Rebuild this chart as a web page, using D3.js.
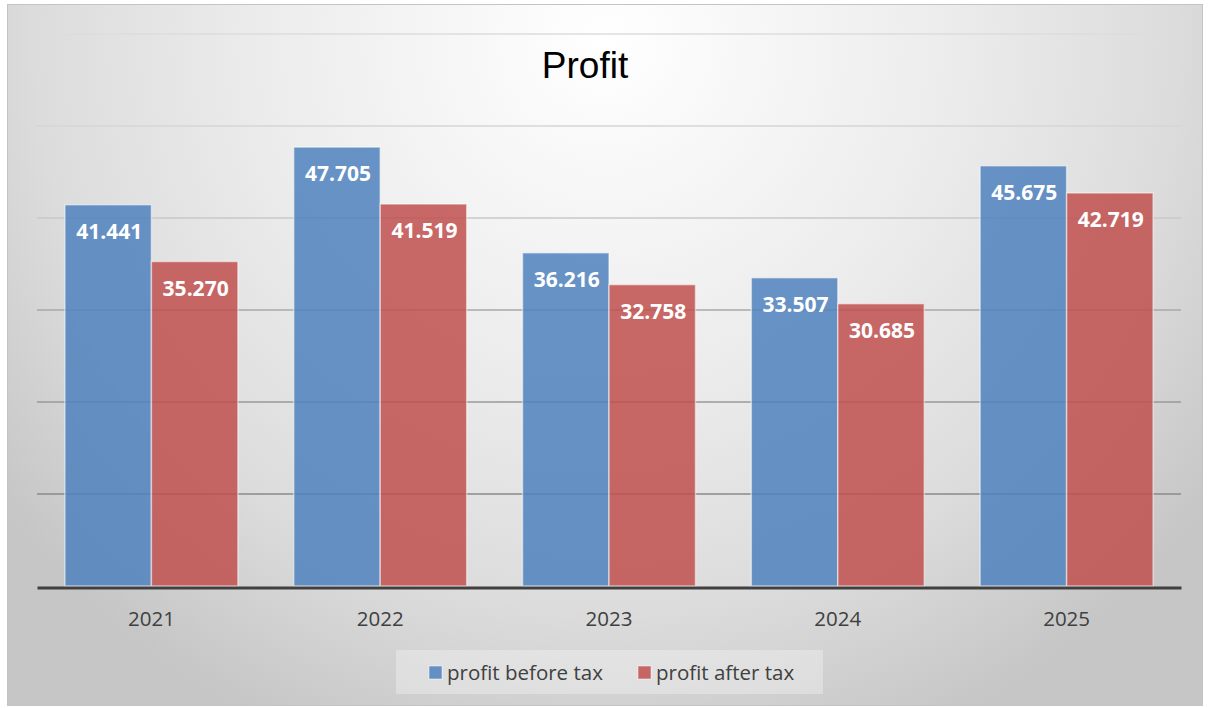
<!DOCTYPE html>
<html>
<head>
<meta charset="utf-8">
<script src="https://cdn.jsdelivr.net/npm/d3@7"></script>
<style>
  body { margin: 0; background: #fff; }
  svg { display: block; }
</style>
</head>
<body>
<script>
// chart data
var years = ["2021", "2022", "2023", "2024", "2025"];
var seriesNames = ["profit before tax", "profit after tax"];
var beforeTax = [41.441, 47.705, 36.216, 33.507, 45.675];
var afterTax = [35.270, 41.519, 32.758, 30.685, 42.719];
var gridTicks = [10, 20, 30, 40, 50, 60];

var width = 1210, height = 708;
var plot = { left: 37, right: 1181, top: 34, bottom: 586 };

var svg = d3.select("body").append("svg")
    .attr("width", width)
    .attr("height", height);

var defs = svg.append("defs");
var bg = defs.append("radialGradient")
    .attr("id", "bg")
    .attr("gradientUnits", "userSpaceOnUse")
    .attr("cx", 605).attr("cy", 40).attr("r", 760);
bg.append("stop").attr("offset", 0).attr("stop-color", "#ffffff");
bg.append("stop").attr("offset", 0.45).attr("stop-color", "#ececec");
bg.append("stop").attr("offset", 0.75).attr("stop-color", "#dcdcdc");
bg.append("stop").attr("offset", 1).attr("stop-color", "#c6c6c6");

// chart frame
svg.append("rect")
    .attr("x", 7.5).attr("y", 4.5)
    .attr("width", 1195).attr("height", 701)
    .attr("fill", "url(#bg)")
    .attr("stroke", "#c4c4c4");

var x0 = d3.scaleBand()
    .domain(years)
    .range([plot.left, plot.right])
    .paddingInner(0.244)
    .paddingOuter(0.122);

var x1 = d3.scaleBand()
    .domain(seriesNames)
    .range([0, x0.bandwidth()]);

var y = d3.scaleLinear()
    .domain([0, 60])
    .range([plot.bottom, plot.top]);

var gridCol = d3.scaleLinear()
    .domain([10, 20, 30, 40, 50, 60])
    .range(["#8a8a8a", "#999999", "#a8a8a8", "#c8c8c8", "#d6d6d6", "#dcdcdc"]);

// gridlines
svg.append("g").selectAll("line")
    .data(gridTicks)
    .enter().append("line")
    .attr("x1", plot.left).attr("x2", plot.right)
    .attr("y1", function (d) { return y(d); })
    .attr("y2", function (d) { return y(d); })
    .attr("stroke", function (d) { return gridCol(d); })
    .attr("stroke-width", 1.3);

var colors = d3.scaleOrdinal()
    .domain(seriesNames)
    .range(["#4f81bd", "#c0504d"]);

var rows = years.map(function (yr, i) {
    return { year: yr, values: [
        { name: seriesNames[0], v: beforeTax[i] },
        { name: seriesNames[1], v: afterTax[i] }
    ] };
});

var groups = svg.append("g").selectAll("g")
    .data(rows)
    .enter().append("g")
    .attr("transform", function (d) { return "translate(" + x0(d.year) + ",0)"; });

groups.selectAll("rect")
    .data(function (d) { return d.values; })
    .enter().append("rect")
    .attr("x", function (d) { return x1(d.name); })
    .attr("y", function (d) { return y(d.v); })
    .attr("width", x1.bandwidth())
    .attr("height", function (d) { return y(0) - y(d.v); })
    .attr("fill", function (d) { return colors(d.name); })
    .attr("fill-opacity", 0.85)
    .attr("stroke", "#ffffff")
    .attr("stroke-opacity", 0.5)
    .attr("stroke-width", 1.5);

groups.selectAll("text")
    .data(function (d) { return d.values; })
    .enter().append("text")
    .attr("x", function (d) { return x1(d.name) + x1.bandwidth() / 2 + 1; })
    .attr("y", function (d) { return y(d.v) + 34; })
    .attr("text-anchor", "middle")
    .attr("font-family", "'Open Sans', sans-serif")
    .attr("font-weight", "bold")
    .attr("font-size", "21px")
    .attr("fill", "#ffffff")
    .text(function (d) { return d3.format(".3f")(d.v); });

// x axis
var xAxis = d3.axisBottom(x0).tickSize(0).tickPadding(0);
var axisG = svg.append("g")
    .attr("transform", "translate(0," + (plot.bottom + 1.5) + ")")
    .call(xAxis);
axisG.select(".domain")
    .attr("stroke", "#404040")
    .attr("stroke-width", 3);
axisG.selectAll("text")
    .attr("dy", 0)
    .attr("y", 38)
    .attr("font-family", "'Open Sans', sans-serif")
    .attr("font-size", "20.5px")
    .attr("fill", "#404040");

// title
svg.append("text")
    .attr("x", 585)
    .attr("y", 78)
    .attr("text-anchor", "middle")
    .attr("font-family", "'Liberation Sans', Arial, sans-serif")
    .attr("font-size", "37px")
    .attr("fill", "#000")
    .text("Profit");

// legend
var legend = svg.append("g");
legend.append("rect")
    .attr("x", 396).attr("y", 650)
    .attr("width", 427).attr("height", 44)
    .attr("fill", "#ffffff")
    .attr("fill-opacity", 0.3);

var legX = [429, 638];
var items = legend.selectAll("g.item")
    .data(seriesNames)
    .enter().append("g")
    .attr("class", "item")
    .attr("transform", function (d, i) { return "translate(" + legX[i] + ",666)"; });
items.append("rect")
    .attr("width", 13).attr("height", 13)
    .attr("fill", function (d) { return colors(d); })
    .attr("fill-opacity", 0.85)
    .attr("stroke", "#ffffff")
    .attr("stroke-opacity", 0.5);
items.append("text")
    .attr("x", 18)
    .attr("y", 14)
    .attr("font-family", "'Open Sans', sans-serif")
    .attr("font-size", "20.5px")
    .attr("fill", "#404040")
    .text(function (d) { return d; });
</script>
</body>
</html>
